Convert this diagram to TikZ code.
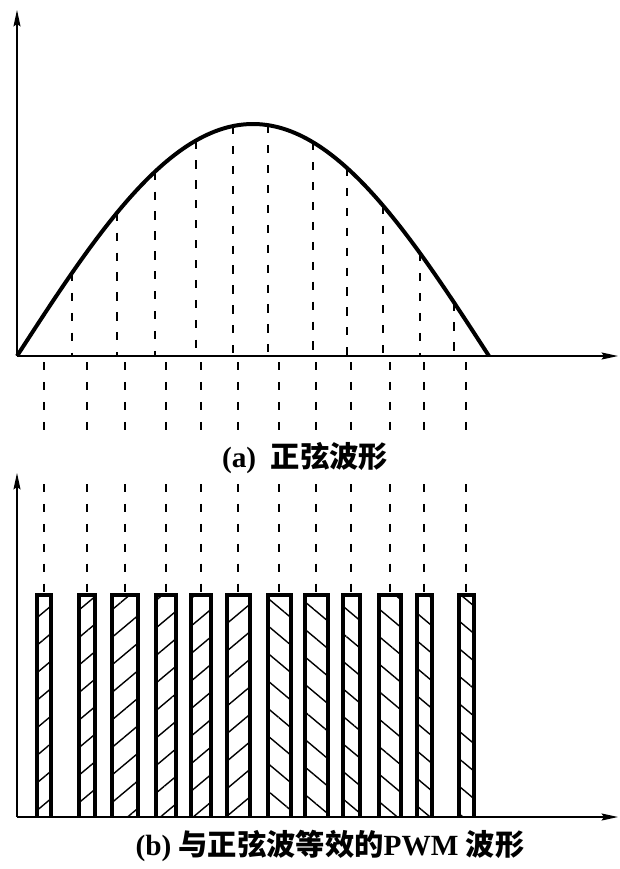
\documentclass[tikz,border=0pt]{standalone}
\usepackage{fontspec}
\setmainfont{Liberation Serif}
\newfontfamily\cjk{Noto Sans CJK SC}
\usepackage{xcolor}
\definecolor{waveInk}{HTML}{000000}
\usetikzlibrary{arrows.meta,patterns.meta}

\begin{document}
\begin{tikzpicture}[x=0.03cm, y=-0.03cm,
  axis/.style={waveInk, line width=1.1pt, -{Stealth[length=14pt,width=6pt,inset=2pt]}},
  sine/.style={waveInk, line width=3.4pt},
  guide/.style={waveInk, line width=1pt, dash pattern=on 7pt off 10pt},
  pulseL/.style={waveInk, line width=3.8pt, pattern color=waveInk,
    pattern={Lines[angle=40,distance=18pt,line width=1.2pt]}},
  pulseR/.style={waveInk, line width=3.8pt, pattern color=waveInk,
    pattern={Lines[angle=-40,distance=18pt,line width=1.2pt]}},
  caption/.style={font=\fontsize{25}{29}\selectfont\bfseries, inner sep=0pt}]
  \useasboundingbox (0,0) rectangle (620,869);
  \fill[white] (0,0) rectangle (620,869);

  \coordinate (originA) at (17,356);
  \coordinate (yTipA) at (17,10);
  \coordinate (xTipA) at (618,356);
  \coordinate (originB) at (17,817);
  \coordinate (yTipB) at (17,473);
  \coordinate (xTipB) at (618,817);

  \draw[axis] (originA) -- (yTipA);
  \draw[axis] (originA) -- (xTipA);
  \draw[sine] plot[domain=17:489, samples=120] (\x, {356-232*sin(0.381356*(\x-17))});
  \foreach \gx in {72,117,155,196,233,268,313,347,383,420,454}
    \draw[guide] (\gx,{356-232*sin(0.381356*(\gx-17))}) -- (\gx,356);
  \foreach \gx in {44,87,125,166,201,238,279,316,351,390,424,466} {
    \draw[guide] (\gx,362) -- (\gx,432);
    \draw[guide] (\gx,484) -- (\gx,592);
  }
  \node[caption] (capA) at (305,458) {(a)\ \ {\cjk\bfseries 正弦波形}};

  \draw[axis] (originB) -- (yTipB);
  \draw[axis] (originB) -- (xTipB);
  \draw[pulseL] (37,817) |- (51,595) -- (51,817);
  \draw[pulseL] (79,817) |- (95,595) -- (95,817);
  \draw[pulseL] (112,817) |- (138,595) -- (138,817);
  \draw[pulseL] (156,817) |- (176,595) -- (176,817);
  \draw[pulseL] (191,817) |- (211,595) -- (211,817);
  \draw[pulseL] (227,817) |- (250,595) -- (250,817);
  \draw[pulseR] (268,817) |- (291,595) -- (291,817);
  \draw[pulseR] (305,817) |- (328,595) -- (328,817);
  \draw[pulseR] (343,817) |- (360,595) -- (360,817);
  \draw[pulseR] (379,817) |- (401,595) -- (401,817);
  \draw[pulseR] (417,817) |- (432,595) -- (432,817);
  \draw[pulseR] (459,817) |- (474,595) -- (474,817);
  \node[caption] (capB) at (330,846) {(b)\ {\cjk\bfseries 与正弦波等效的}PWM\ {\cjk\bfseries 波形}};
\end{tikzpicture}
\end{document}
